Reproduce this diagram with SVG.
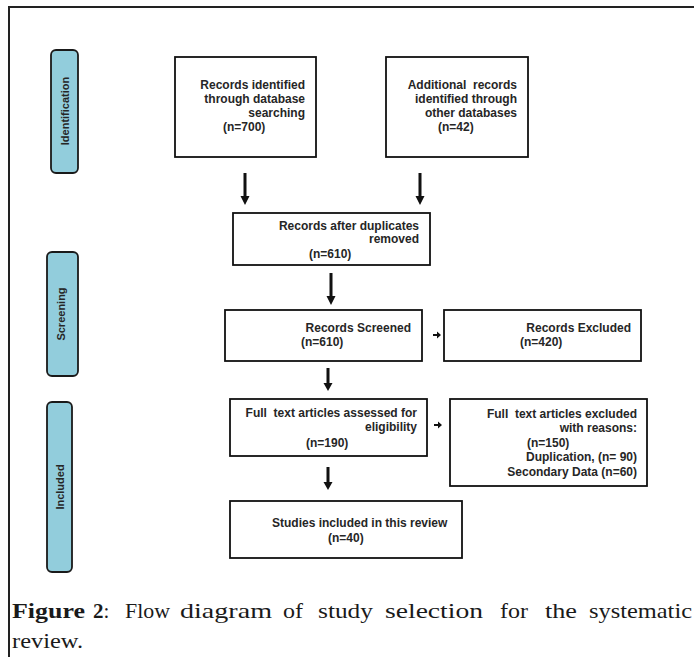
<svg xmlns="http://www.w3.org/2000/svg" width="694" height="657" viewBox="0 0 694 657">
<style>
.box{fill:#fff;stroke:#111;stroke-width:1.8}
.pill{fill:#92cddc;stroke:#1a1a1a;stroke-width:1.8}
.t{font-family:"Liberation Sans",Arial,sans-serif;font-weight:bold;font-size:12px;fill:#262626}
.e{text-anchor:end}
.pl{font-family:"Liberation Sans",Arial,sans-serif;font-weight:bold;font-size:11px;fill:#262626;text-anchor:middle}
.cap{font-family:"Liberation Serif","Times New Roman",serif;font-size:21px;fill:#1a1a1a}
.arrow{fill:#111}
.frame{stroke:#222;stroke-width:2;fill:none}
</style>
<rect width="694" height="657" fill="#fff"/>
<path class="frame" d="M9,657 V7 H694"/>

<g id="stage-identification">
<rect class="pill" x="51" y="50" width="27" height="123" rx="5"/>
<text class="pl" transform="translate(69,111) rotate(-90)">Identification</text>
</g>
<g id="stage-screening">
<rect class="pill" x="47" y="252" width="31" height="124" rx="5"/>
<text class="pl" transform="translate(65,314) rotate(-90)">Screening</text>
</g>
<g id="stage-included">
<rect class="pill" x="47" y="402" width="25" height="170" rx="5"/>
<text class="pl" transform="translate(64,487) rotate(-90)">Included</text>
</g>

<g id="n1">
<rect class="box" x="175" y="57" width="141" height="100"/>
<text class="t e" x="305" y="89">Records identified</text>
<text class="t e" x="305" y="103">through database</text>
<text class="t e" x="305" y="117">searching</text>
<text class="t" x="223" y="131">(n=700)</text>
</g>
<g id="n2">
<rect class="box" x="386" y="57" width="142" height="100"/>
<text class="t e" x="517" y="89" xml:space="preserve">Additional  records</text>
<text class="t e" x="517" y="103">identified through</text>
<text class="t e" x="517" y="117">other databases</text>
<text class="t" x="438" y="131">(n=42)</text>
</g>
<g id="n3">
<rect class="box" x="233" y="213" width="197" height="52"/>
<text class="t e" x="419" y="230">Records after duplicates</text>
<text class="t e" x="419" y="243">removed</text>
<text class="t" x="309" y="258">(n=610)</text>
</g>
<g id="n4">
<rect class="box" x="225" y="310" width="197" height="51"/>
<text class="t e" x="411" y="332">Records Screened</text>
<text class="t" x="301" y="346">(n=610)</text>
</g>
<g id="n5">
<rect class="box" x="444" y="310" width="197" height="51"/>
<text class="t e" x="631" y="332">Records Excluded</text>
<text class="t" x="520" y="346">(n=420)</text>
</g>
<g id="n6">
<rect class="box" x="230" y="399" width="197" height="57"/>
<text class="t e" x="417" y="417" xml:space="preserve">Full  text articles assessed for</text>
<text class="t e" x="417" y="431">eligibility</text>
<text class="t" x="306" y="447">(n=190)</text>
</g>
<g id="n7">
<rect class="box" x="450" y="399" width="197" height="87"/>
<text class="t e" x="637" y="418" xml:space="preserve">Full  text articles excluded</text>
<text class="t e" x="637" y="432">with reasons:</text>
<text class="t" x="527" y="447">(n=150)</text>
<text class="t e" x="637" y="461">Duplication, (n= 90)</text>
<text class="t e" x="637" y="476">Secondary Data (n=60)</text>
</g>
<g id="n8">
<rect class="box" x="230" y="501" width="232" height="57"/>
<text class="t" x="272" y="527">Studies included in this review</text>
<text class="t" x="328" y="542">(n=40)</text>
</g>

<g id="connectors">
<polygon class="arrow" points="243.5,173 246.5,173 246.5,196 249.5,196 245,205 240.5,196 243.5,196"/>
<polygon class="arrow" points="418.5,173 421.5,173 421.5,196 424.5,196 420,205 415.5,196 418.5,196"/>
<polygon class="arrow" points="329.5,273 332.5,273 332.5,296 335.5,296 331,305 326.5,296 329.5,296"/>
<polygon class="arrow" points="326.5,368 329.5,368 329.5,383 332.5,383 328,391 323.5,383 326.5,383"/>
<polygon class="arrow" points="326.5,467 329.5,467 329.5,482 332.5,482 328,490 323.5,482 326.5,482"/>
<polygon class="arrow" points="433,334 437,334 437,331.5 441,335 437,338.5 437,336 433,336"/>
<polygon class="arrow" points="434,424 438,424 438,421.5 442,425 438,428.5 438,426 434,426"/>
</g>

<g id="caption">
<text class="cap" y="618"><tspan x="12" font-weight="bold" textLength="73" lengthAdjust="spacingAndGlyphs">Figure</tspan><tspan x="93" font-weight="bold">2</tspan><tspan>:</tspan><tspan x="125" textLength="45" lengthAdjust="spacingAndGlyphs">Flow</tspan><tspan x="180" textLength="92" lengthAdjust="spacingAndGlyphs">diagram</tspan><tspan x="283" textLength="20" lengthAdjust="spacingAndGlyphs">of</tspan><tspan x="318" textLength="55" lengthAdjust="spacingAndGlyphs">study</tspan><tspan x="385" textLength="98" lengthAdjust="spacingAndGlyphs">selection</tspan><tspan x="500" textLength="28" lengthAdjust="spacingAndGlyphs">for</tspan><tspan x="545" textLength="32" lengthAdjust="spacingAndGlyphs">the</tspan><tspan x="589" textLength="103" lengthAdjust="spacingAndGlyphs">systematic</tspan></text>
<text class="cap" x="12" y="648" textLength="71" lengthAdjust="spacingAndGlyphs">review.</text>
</g>
</svg>
